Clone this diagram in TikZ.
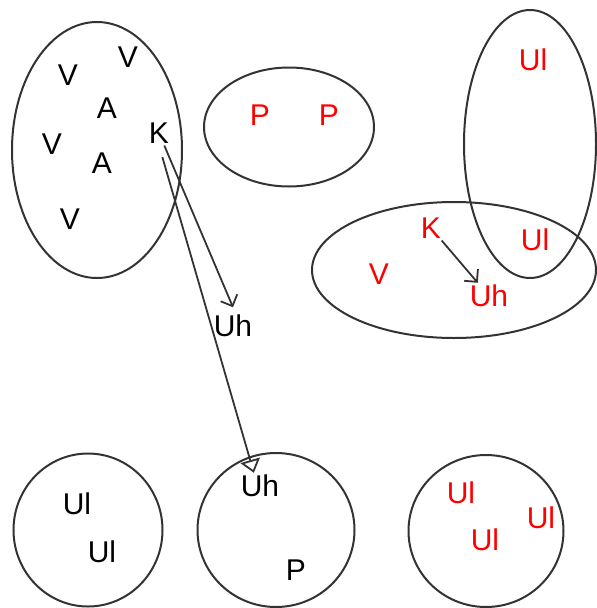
\documentclass[tikz,border=0pt]{standalone}
\usepackage{fontspec}
\setmainfont{Liberation Sans}
\usetikzlibrary{shapes.geometric, arrows.meta}
\tikzset{
  set node/.style={
    ellipse,
    draw=black!80,
    line width=2pt,
    inner sep=0pt,
  },
  elem node/.style={
    font=\fontsize{30}{36}\selectfont,
    inner sep=2pt,
  },
  hit node/.style={
    elem node,
    text=red,
  },
  barb arrow/.style={
    draw=black!80,
    line width=1.8pt,
    -{Straight Barb[length=9pt, width=18pt]},
  },
}

\begin{document}
\begin{tikzpicture}[x=1pt, y=-1pt]
      \useasboundingbox (0,0) rectangle (597,608);

      % sets
      \node[set node, minimum width=170pt, minimum height=256pt] (s1) at (97,150) {};
      \node[set node, minimum width=170pt, minimum height=119pt] (s2) at (289,127) {};
      \node[set node, minimum width=132pt, minimum height=268pt] (s3) at (530,144) {};
      \node[set node, minimum width=284pt, minimum height=136pt] (s4) at (454,270) {};
      \node[set node, minimum width=149pt, minimum height=153pt] (c1) at (88,530) {};
      \node[set node, minimum width=157pt, minimum height=154pt] (c2) at (276,530) {};
      \node[set node, minimum width=155pt, minimum height=152pt] (c3) at (486,531) {};

      % elements
      \node[elem node] (v1) at (68,75) {V};
      \node[elem node] (v2) at (128,57) {V};
      \node[elem node] (a1) at (107,108) {A};
      \node[elem node] (kA) at (159,133) {K};
      \node[elem node] (v3) at (52,144) {V};
      \node[elem node] (a2) at (102,163) {A};
      \node[elem node] (v4) at (70,219) {V};
      \node[elem node] (uhM) at (233,326) {Uh};
      \node[elem node] (ul1) at (77,504) {Ul};
      \node[elem node] (ul2) at (102,552) {Ul};
      \node[elem node] (uhC) at (260,486) {Uh};
      \node[elem node] (p3) at (296,570) {P};

      \node[hit node] (p1) at (260,115) {P};
      \node[hit node] (p2) at (329,115) {P};
      \node[hit node] (ul3) at (533,60) {Ul};
      \node[hit node] (kB) at (431,228) {K};
      \node[hit node] (ul4) at (535,240) {Ul};
      \node[hit node] (v5) at (379,274) {V};
      \node[hit node] (uhR) at (489,296) {Uh};
      \node[hit node] (ul5) at (461,493) {Ul};
      \node[hit node] (ul6) at (485,540) {Ul};
      \node[hit node] (ul7) at (541,518) {Ul};

      % arrows
      \draw[barb arrow, shorten >=6pt] (kA) -- (uhM.80);
      \draw[barb arrow, -{Triangle[open, length=13pt, width=20pt]}, shorten <=12pt] (kA.south) -- (uhC.115);
      \draw[barb arrow] (kB) -- (uhR);
    \end{tikzpicture}
\end{document}
